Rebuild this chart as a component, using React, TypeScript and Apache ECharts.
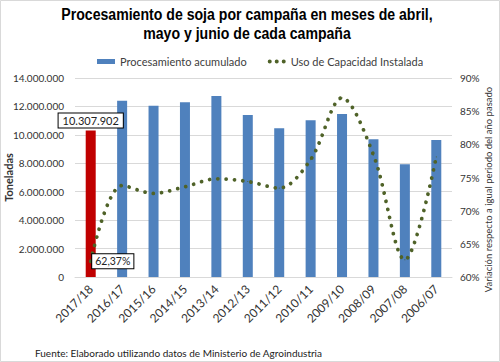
import React, { useEffect, useRef } from "react";
import * as echarts from "echarts";

const categories = ["2017/18", "2016/17", "2015/16", "2014/15", "2013/14", "2012/13", "2011/12", "2010/11", "2009/10", "2008/09", "2007/08", "2006/07"];
const processed = [10307902, 12400000, 12050000, 12300000, 12740000, 11400000, 10460000, 11030000, 11470000, 9690000, 7930000, 9640000];
const capacityUse = [62.37, 73.8, 72.6, 73.6, 74.8, 74.4, 73.4, 77.7, 87.0, 78.4, 62.6, 78.1];
const barName = "Procesamiento acumulado";
const lineName = "Uso de Capacidad Instalada";
const titleText = "Procesamiento de soja por campaña en meses de abril,\nmayo y junio de cada campaña";
const leftAxisName = "Toneladas";
const rightAxisName = "Variación respecto a igual periodo del año pasado";
const sourceText = "Fuente: Elaborado utilizando datos de Ministerio de Agroindustria";

const FONT = "Lato, 'Noto Sans', sans-serif";

function fmtThousands(n: number): string {
  return String(Math.round(n)).replace(/\B(?=(\d{3})+(?!\d))/g, ".");
}

export default function App() {
  const ref = useRef<HTMLDivElement>(null);
  useEffect(() => {
    if (!ref.current) return;
    const chart = echarts.init(ref.current, null, { renderer: "svg" });
    const labelBox = {
      borderColor: "#000",
      borderWidth: 1,
      backgroundColor: "#fff",
      color: "#222",
      fontFamily: FONT,
      fontSize: 11,
    };
    chart.setOption({
      animation: false,
      backgroundColor: "#fff",
      legend: {
        left: 97,
        top: 56,
        padding: 0,
        itemWidth: 18,
        itemHeight: 5,
        itemGap: 21,
        textStyle: { fontFamily: FONT, fontSize: 11, color: "#404040" },
        data: [
          { name: barName, icon: "rect" },
          {
            name: lineName,
            icon: "path://M0,2a2,2 0 1,0 4,0a2,2 0 1,0 -4,0M7,2a2,2 0 1,0 4,0a2,2 0 1,0 -4,0M14,2a2,2 0 1,0 4,0a2,2 0 1,0 -4,0",
          },
        ],
      },
      grid: { left: 75, right: 48, top: 78, bottom: 85, outerBoundsMode: "none", containLabel: false },
      xAxis: {
        type: "category",
        data: categories,
        axisTick: { show: false },
        axisLine: { lineStyle: { color: "#d9d9d9" } },
        axisLabel: {
          interval: 0,
          rotate: 45,
          margin: 10,
          fontFamily: FONT,
          fontSize: 12,
          color: "#333",
        },
      },
      yAxis: [
        {
          type: "value",
          min: 0,
          max: 14000000,
          interval: 2000000,
          name: leftAxisName,
          nameLocation: "middle",
          nameGap: 61,
          nameMoveOverlap: false,
          nameTextStyle: { fontFamily: FONT, fontSize: 11, fontWeight: "bold", color: "#333" },
          axisLabel: {
            formatter: (v: number) => fmtThousands(v),
            margin: 11,
            fontFamily: FONT,
            fontSize: 10,
            color: "#333",
          },
          splitLine: { lineStyle: { color: "#d9d9d9" } },
          axisLine: { show: false },
          axisTick: { show: false },
        },
        {
          type: "value",
          min: 60,
          max: 90,
          interval: 5,
          position: "right",
          name: rightAxisName,
          nameLocation: "middle",
          nameGap: 31,
          nameMoveOverlap: false,
          nameRotate: 90,
          nameTextStyle: { fontFamily: FONT, fontSize: 9.5, color: "#333", padding: [0, 24, 0, 0] },
          axisLabel: {
            formatter: (v: number) => v + "%",
            margin: 8,
            fontFamily: FONT,
            fontSize: 10,
            color: "#333",
          },
          splitLine: { show: false },
          axisLine: { show: false },
          axisTick: { show: false },
        },
      ],
      series: [
        {
          name: barName,
          type: "bar",
          yAxisIndex: 0,
          barWidth: 10,
          itemStyle: { color: "#4F81BD" },
          data: processed.map((v, i) =>
            i === 0
              ? {
                  value: v,
                  itemStyle: { color: "#C00000" },
                  label: {
                    show: true,
                    position: "top",
                    distance: 3,
                    padding: [2, 4, 1, 4],
                    formatter: (p: any) => fmtThousands(p.value),
                    ...labelBox,
                  },
                }
              : v
          ),
        },
        {
          name: lineName,
          type: "line",
          yAxisIndex: 1,
          smooth: 0.33,
          symbol: "circle",
          symbolSize: 1,
          itemStyle: { color: "#4F6228" },
          lineStyle: { color: "#4F6228", width: 3.8, type: [0.01, 8.3], cap: "round" },
          data: capacityUse.map((v, i) =>
            i === 0
              ? {
                  value: v,
                  label: {
                    show: true,
                    position: "right",
                    distance: 1,
                    padding: [2, 3, 1, 3],
                    formatter: (p: any) => p.value.toFixed(2).replace(".", ",") + "%",
                    ...labelBox,
                    fontSize: 10.5,
                  },
                }
              : v
          ),
          z: 3,
        },
      ],
      graphic: [
        {
          type: "text",
          x: 247,
          y: 5,
          scaleX: 0.83,
          style: {
            text: titleText,
            textAlign: "center",
            fontFamily: "'Liberation Sans', Arial, sans-serif",
            fontWeight: "bold",
            fontSize: 17,
            lineHeight: 19,
            fill: "#000",
          },
        },
        {
          type: "text",
          left: 35,
          top: 348,
          style: { text: sourceText, fontFamily: FONT, fontSize: 10, fill: "#222" },
        },
        {
          type: "rect",
          shape: { x: 0.5, y: 0.5, width: 499, height: 361 },
          style: { fill: "none", stroke: "#d9d9d9", lineWidth: 1 },
          silent: true,
        },
      ],
    });
    return () => chart.dispose();
  }, []);
  return (
    <div
      ref={ref}
      style={{ position: "fixed", left: 0, top: 0, width: 500, height: 362, background: "#fff" }}
    />
  );
}
